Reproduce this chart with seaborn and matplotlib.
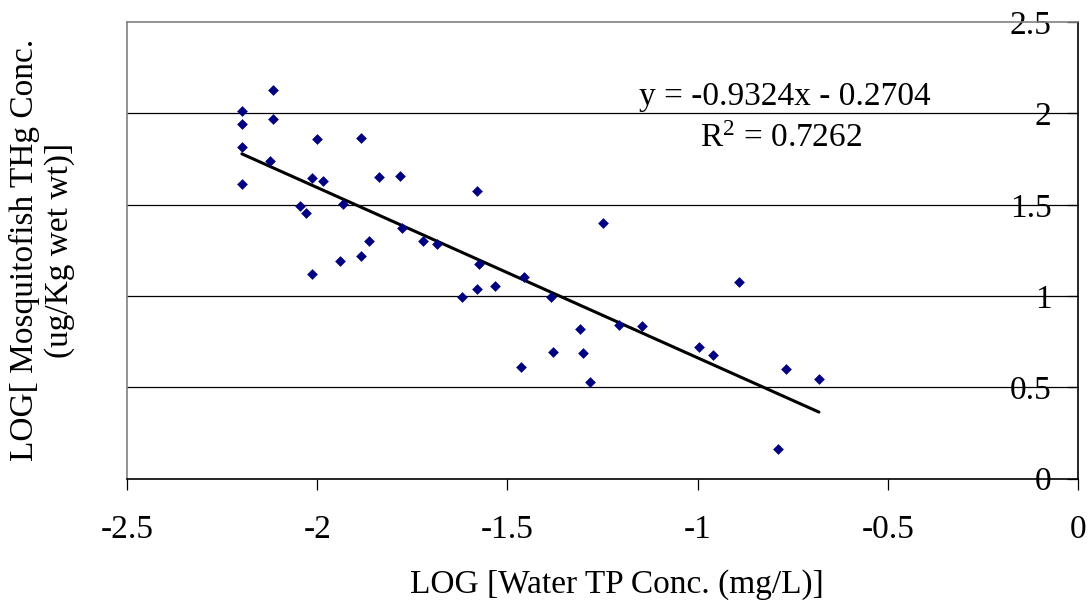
import matplotlib; matplotlib.use('Agg')
import numpy as np
import pandas as pd
import seaborn as sns
import matplotlib.pyplot as plt

# values
log_tp = [-2.198, -2.198, -2.198, -2.198, -2.115, -2.115, -2.124, -2.000, -1.886,
          -2.014, -1.986, -1.838, -1.782, -1.579, -2.045, -2.029, -1.933, -1.778,
          -1.721, -1.685, -1.864, -1.886, -1.940, -2.014, -1.575, -1.579, -1.533,
          -1.620, -1.249, -0.890, -1.385, -1.456, -1.309, -1.380, -1.301, -1.464,
          -1.284, -1.206, -1.146, -0.996, -0.960, -0.768, -0.681, -0.789]
log_thg = [2.012, 1.944, 1.817, 1.614, 2.127, 1.970, 1.742, 1.860, 1.868,
           1.649, 1.632, 1.650, 1.656, 1.576, 1.495, 1.455, 1.503, 1.371,
           1.300, 1.287, 1.300, 1.218, 1.194, 1.123, 1.176, 1.040, 1.054,
           0.997, 1.399, 1.076, 0.995, 1.106, 0.818, 0.696, 0.690, 0.612,
           0.531, 0.842, 0.836, 0.723, 0.677, 0.599, 0.548, 0.161]
slope = -0.9324
intercept = -0.2704
r_squared = 0.7262
x_ticks = [-2.5, -2.0, -1.5, -1.0, -0.5, 0.0]
x_tick_labels = ['-2.5', '-2', '-1.5', '-1', '-0.5', '0']
y_ticks = [0.0, 0.5, 1.0, 1.5, 2.0, 2.5]
y_tick_labels = ['0', '0.5', '1', '1.5', '2', '2.5']

df = pd.DataFrame({'tp': log_tp, 'thg': log_thg})

sns.set_style('white')
plt.rcParams['font.family'] = ['Liberation Serif', 'DejaVu Serif']
plt.rcParams['mathtext.fontset'] = 'custom'
plt.rcParams['mathtext.rm'] = 'Liberation Serif'
plt.rcParams['mathtext.it'] = 'Liberation Serif'
plt.rcParams['text.color'] = 'black'
plt.rcParams['xtick.color'] = 'black'
plt.rcParams['ytick.color'] = 'black'

fs = 24

fig = plt.figure(figsize=(10.91, 6.05), dpi=100)
ax = fig.add_axes([0.1164, 0.2088, 0.8717, 0.7545])

# horizontal gridlines
for yv in y_ticks[1:-1]:
    ax.axhline(yv, color='black', lw=0.9, zorder=0)

sns.scatterplot(data=df, x='tp', y='thg', marker='D', s=30, color='#000080',
                linewidth=0, ax=ax, zorder=3)

# trend line from the fitted equation
fx = np.array([df['tp'].min(), df['tp'].max()])
ax.plot(fx, slope * fx + intercept, color='black', lw=2.2, zorder=2)

ax.text(-0.77, 2.09, f'y = {slope}x - {abs(intercept)}', fontsize=fs,
        ha='center', va='center')
ax.text(-0.78, 1.86, 'R$^2$ = ' + f'{r_squared}', fontsize=fs,
        ha='center', va='center')

ax.set_xlim(-2.5, 0)
ax.set_ylim(0, 2.5)
ax.set_xticks(x_ticks)
ax.set_xticklabels(x_tick_labels, fontsize=fs)
ax.set_yticks(y_ticks)
ax.set_yticklabels(y_tick_labels, fontsize=fs)

ax.tick_params(axis='x', direction='out', length=8, width=0.9, pad=18,
               bottom=True, colors='black')
ax.tick_params(axis='y', left=False, right=True, labelleft=False, labelright=True,
               direction='in', length=8, width=0.9, pad=-19, colors='black')
for lbl in ax.get_yticklabels():
    lbl.set_horizontalalignment('right')

for side in ['left', 'top']:
    ax.spines[side].set_color('#808080')
    ax.spines[side].set_linewidth(1.2)
for side in ['right', 'bottom']:
    ax.spines[side].set_color('black')
    ax.spines[side].set_linewidth(1.2)

ax.set_xlabel('')
ax.set_ylabel('')
fig.text(617 / 1091, 1 - 585 / 605, 'LOG [Water TP Conc. (mg/L)]', fontsize=fs,
         ha='center', va='center')
fig.text(42 / 1091, 1 - 250 / 605, 'LOG[ Mosquitofish THg Conc.\n(ug/Kg wet wt)]',
         fontsize=fs, rotation=90, ha='center', va='center',
         multialignment='center', linespacing=1.15)

plt.savefig('out.png', dpi=100)
plt.close()
